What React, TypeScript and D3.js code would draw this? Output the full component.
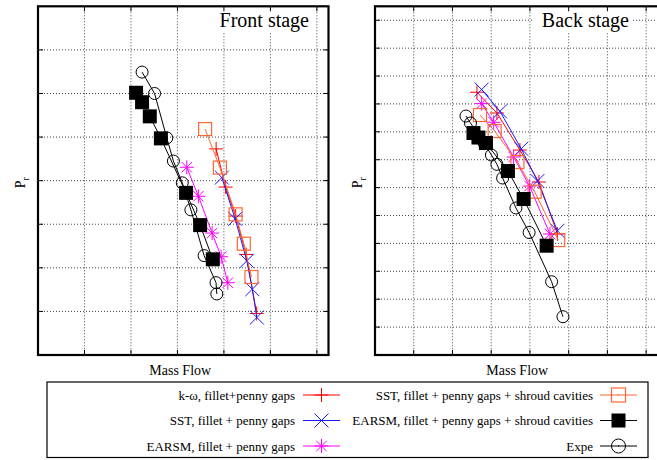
import React from "react";
import * as d3 from "d3";

// Pressure ratio vs mass flow, in grid units (x: mass flow, y: Pr)
const frontKOmega: [number, number][] = [
  [3.832, 4.729], [4.037, 3.853], [4.252, 3.188], [4.478, 2.305], [4.704, 0.952],
];
const frontSST: [number, number][] = [
  [3.955, 4.07], [4.241, 3.124], [4.493, 2.16], [4.611, 1.51], [4.708, 0.86],
];
const frontEARSM: [number, number][] = [
  [3.201, 4.307], [3.451, 3.642], [3.746, 2.798], [3.94, 2.255], [4.084, 1.658],
];
const frontSSTShroud: [number, number][] = [
  [3.595, 5.183], [3.914, 4.3], [4.252, 3.227], [4.428, 2.553], [4.592, 1.789],
];
const frontEARSMShroud: [number, number][] = [
  [2.11, 6.016], [2.239, 5.8], [2.405, 5.475], [2.644, 4.97], [3.186, 3.72], [3.488, 2.98], [3.761, 2.195],
];
const frontExpe: [number, number][] = [
  [2.239, 6.49], [2.508, 6.0], [2.771, 4.98], [2.913, 4.45], [3.104, 3.95], [3.29, 3.33], [3.574, 2.28], [3.83, 1.66], [3.847, 1.4],
];

const backKOmega: [number, number][] = [
  [2.632, 9.419], [3.148, 8.674], [3.742, 7.348], [4.232, 6.201], [4.71, 4.337],
];
const backSST: [number, number][] = [
  [2.754, 9.516], [3.226, 8.735], [3.775, 7.394], [4.194, 6.237], [4.71, 4.452],
];
const backEARSM: [number, number][] = [
  [2.754, 9.011], [3.063, 8.344], [3.579, 7.097], [3.992, 6.057], [4.516, 4.337],
];
const backSSTShroud: [number, number][] = [
  [2.71, 8.602], [3.089, 8.029], [3.677, 6.918], [4.121, 5.853], [4.73, 4.122],
];
const backEARSMShroud: [number, number][] = [
  [2.542, 7.957], [2.671, 7.796], [2.865, 7.599], [3.432, 6.595], [3.837, 5.591], [4.431, 3.918],
];
const backExpe: [number, number][] = [
  [2.348, 8.566], [2.465, 8.315], [2.813, 7.599], [3.006, 7.168], [3.148, 6.835], [3.295, 6.344], [3.639, 5.269], [3.979, 4.391], [4.56, 2.627], [4.852, 1.373],
];

const frontXTicks = [1, 2, 3, 4, 5, 6];
const frontYTicks = [1, 2, 3, 4, 5, 6, 7];
const backXTicks = [1, 2, 3, 4, 5, 6, 7];
const backYTicks = [1, 2, 3, 4, 5, 6, 7, 8, 9, 10, 11, 12];

type MarkerKind = "plus" | "cross" | "star" | "openSquare" | "filledSquare" | "circle";

const seriesStyles: { name: string; color: string; marker: MarkerKind }[] = [
  { name: "k-ω, fillet+penny gaps", color: "#ff0000", marker: "plus" },
  { name: "SST, fillet + penny gaps", color: "#1a1aff", marker: "cross" },
  { name: "EARSM, fillet + penny gaps", color: "#ff00ff", marker: "star" },
  { name: "SST, fillet + penny gaps + shroud cavities", color: "#ff6633", marker: "openSquare" },
  { name: "EARSM, fillet + penny gaps + shroud cavities", color: "#000000", marker: "filledSquare" },
  { name: "Expe", color: "#000000", marker: "circle" },
];

const FONT = "'Liberation Serif', 'Times New Roman', serif";

function Marker({ kind, x, y, color, s, dot }: { kind: MarkerKind; x: number; y: number; color: string; s: number; dot?: boolean }) {
  const h = s / 2;
  switch (kind) {
    case "plus":
      return (
        <g stroke={color} strokeWidth={1}>
          <line x1={x - h} y1={y} x2={x + h} y2={y} />
          <line x1={x} y1={y - h} x2={x} y2={y + h} />
        </g>
      );
    case "cross":
      return (
        <g stroke={color} strokeWidth={1}>
          <line x1={x - h} y1={y - h} x2={x + h} y2={y + h} />
          <line x1={x - h} y1={y + h} x2={x + h} y2={y - h} />
        </g>
      );
    case "star":
      return (
        <g stroke={color} strokeWidth={1}>
          <line x1={x - h} y1={y} x2={x + h} y2={y} />
          <line x1={x} y1={y - h} x2={x} y2={y + h} />
          <line x1={x - h * 0.75} y1={y - h * 0.75} x2={x + h * 0.75} y2={y + h * 0.75} />
          <line x1={x - h * 0.75} y1={y + h * 0.75} x2={x + h * 0.75} y2={y - h * 0.75} />
        </g>
      );
    case "openSquare":
      return (
        <g>
          <rect x={x - h} y={y - h} width={s} height={s} fill="none" stroke={color} strokeWidth={1.2} />
          {dot && <circle cx={x} cy={y} r={0.7} fill={color} />}
        </g>
      );
    case "filledSquare":
      return <rect x={x - h} y={y - h} width={s} height={s} fill={color} />;
    case "circle":
      return (
        <g>
          <circle cx={x} cy={y} r={h} fill="none" stroke={color} strokeWidth={1} />
          {dot && <circle cx={x} cy={y} r={0.7} fill={color} />}
        </g>
      );
  }
}

const markerSize: Record<MarkerKind, number> = {
  plus: 14,
  cross: 14,
  star: 14,
  openSquare: 13,
  filledSquare: 14,
  circle: 12,
};

type PanelProps = {
  id: string;
  left: number;
  right: number;
  top: number;
  bottom: number;
  xDomain: [number, number];
  yDomain: [number, number];
  xTicks: number[];
  yTicks: number[];
  series: [number, number][][];
  title: string;
  titleBox: [number, number, number, number];
};

function Panel(p: PanelProps) {
  const x = d3.scaleLinear().domain(p.xDomain).range([p.left, p.right]);
  const y = d3.scaleLinear().domain(p.yDomain).range([p.bottom, p.top]);
  const line = d3
    .line<[number, number]>()
    .x((d) => x(d[0]))
    .y((d) => y(d[1]));
  const tickLen = 5;
  const [bx, by, bw, bh] = p.titleBox;
  return (
    <g>
      <defs>
        <clipPath id={`clip-${p.id}`}>
          <rect x={p.left} y={p.top} width={p.right - p.left} height={p.bottom - p.top} />
        </clipPath>
      </defs>
      {/* grid */}
      <g stroke="#444" strokeWidth={1} strokeDasharray="1 2">
        {p.xTicks.map((t) => (
          <line key={`gx${t}`} x1={x(t)} x2={x(t)} y1={p.top} y2={p.bottom} />
        ))}
        {p.yTicks.map((t) => (
          <line key={`gy${t}`} x1={p.left} x2={p.right} y1={y(t)} y2={y(t)} />
        ))}
      </g>
      {/* title with white backing */}
      <rect x={bx} y={by} width={bw} height={bh} fill="#fff" />
      <text x={bx + bw - 3} y={p.top + 21} textAnchor="end" fontFamily={FONT} fontSize={20} fill="#000">
        {p.title}
      </text>
      {/* series */}
      <g clipPath={`url(#clip-${p.id})`}>
        {p.series.map((data, i) => {
          const st = seriesStyles[i];
          return (
            <g key={i}>
              <path d={line(data) ?? ""} fill="none" stroke={st.color} strokeWidth={1} />
              {data.map((d, j) => (
                <Marker key={j} kind={st.marker} x={x(d[0])} y={y(d[1])} color={st.color} s={markerSize[st.marker]} />
              ))}
            </g>
          );
        })}
      </g>
      {/* ticks */}
      <g stroke="#000" strokeWidth={1}>
        {p.xTicks.map((t) => (
          <g key={`tx${t}`}>
            <line x1={x(t)} x2={x(t)} y1={p.bottom} y2={p.bottom - tickLen} />
            <line x1={x(t)} x2={x(t)} y1={p.top} y2={p.top + tickLen} />
          </g>
        ))}
        {p.yTicks.map((t) => (
          <g key={`ty${t}`}>
            <line x1={p.left} x2={p.left + tickLen} y1={y(t)} y2={y(t)} />
            <line x1={p.right} x2={p.right - tickLen} y1={y(t)} y2={y(t)} />
          </g>
        ))}
      </g>
      {/* frame */}
      <rect x={p.left} y={p.top} width={p.right - p.left} height={p.bottom - p.top} fill="none" stroke="#000" strokeWidth={2.2} />
      {/* axis labels */}
      <text x={(p.left + p.right) / 2 - 3} y={375} textAnchor="middle" fontFamily={FONT} fontSize={14}>
        Mass Flow
      </text>
      <text transform={`translate(${p.left - 13},${(p.top + p.bottom) / 2 + 2}) rotate(-90)`} textAnchor="middle" fontFamily={FONT} fontSize={14}>
        P<tspan fontSize={10} dy={4}>r</tspan>
      </text>
    </g>
  );
}

function Legend() {
  const rows = [395, 420.5, 446];
  const cols = [
    { textEnd: 295, lineStart: 303, lineEnd: 340 },
    { textEnd: 593, lineStart: 600, lineEnd: 637 },
  ];
  return (
    <g>
      <rect x={47} y={382} width={601} height={75.5} fill="#fff" stroke="#000" strokeWidth={1.2} />
      {seriesStyles.map((st, i) => {
        const c = cols[Math.floor(i / 3)];
        const cy = rows[i % 3];
        const mx = (c.lineStart + c.lineEnd) / 2;
        const legendSize = st.marker === "circle" ? 14 : 14;
        return (
          <g key={i}>
            <text x={c.textEnd} y={cy + 4.5} textAnchor="end" fontFamily={FONT} fontSize={13}>
              {st.name}
            </text>
            <line x1={c.lineStart} x2={c.lineEnd} y1={cy} y2={cy} stroke={st.color} strokeWidth={1.2} />
            <Marker kind={st.marker} x={mx} y={cy} color={st.color} s={legendSize} dot />
          </g>
        );
      })}
    </g>
  );
}

export default function App() {
  return (
    <svg
      width={657}
      height={460}
      viewBox="0 0 657 460"
      style={{ position: "absolute", left: 0, top: 0, background: "#fff" }}
    >
      <rect x={0} y={0} width={657} height={460} fill="#fff" />
      <Panel
        id="front"
        left={38}
        right={328.5}
        top={6.3}
        bottom={355}
        xDomain={[0, 6.25]}
        yDomain={[0, 8]}
        xTicks={frontXTicks}
        yTicks={frontYTicks}
        series={[frontKOmega, frontSST, frontEARSM, frontSSTShroud, frontEARSMShroud, frontExpe]}
        title="Front stage"
        titleBox={[212, 7, 100, 26]}
      />
      <Panel
        id="back"
        left={375}
        right={665.5}
        top={6.3}
        bottom={355}
        xDomain={[0, 7.5]}
        yDomain={[0, 12.5]}
        xTicks={backXTicks}
        yTicks={backYTicks}
        series={[backKOmega, backSST, backEARSM, backSSTShroud, backEARSMShroud, backExpe]}
        title="Back stage"
        titleBox={[532, 7, 100, 26]}
      />
      <Legend />
    </svg>
  );
}
